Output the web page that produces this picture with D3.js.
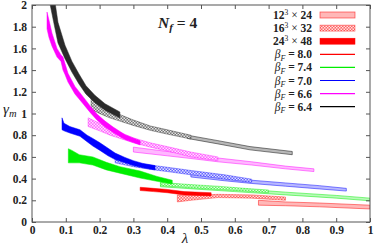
<!DOCTYPE html>
<html>
<head>
<meta charset="utf-8">
<script src="https://cdn.jsdelivr.net/npm/d3@7"></script>
<style>
	body { margin: 0; background: #fff; }
	svg { display: block; font-family: "Liberation Serif", "DejaVu Serif", serif; }
	.axis line { stroke: #555; }
	.axis .domain { display: none; }
	.legend text { font-size: 11.5px; font-weight: bold; fill: #222; }
</style>
</head>
<body>
<div id="chart"></div>
<script>
// axis ticks
var xTicks = [0, 0.1, 0.2, 0.3, 0.4, 0.5, 0.6, 0.7, 0.8, 0.9, 1];
var xLabels = ['0', '0.1', '0.2', '0.3', '0.4', '0.5', '0.6', '0.7', '0.8', '0.9', '1'];
var yTicks = [0, 0.2, 0.4, 0.6, 0.8, 1, 1.2, 1.4, 1.6, 1.8, 2];
var yLabels = ['0', '0.2', '0.4', '0.6', '0.8', '1', '1.2', '1.4', '1.6', '1.8', '2'];

// legend entries
var volumeLabels = [['12', '24'], ['16', '32'], ['24', '48']];
var betaValues = ['8.0', '7.4', '7.0', '6.6', '6.4'];
var betaColors = ['#ff0000', '#00ee00', '#0000ff', '#ff00ff', '#000000'];

// bands: [lambda, gamma low, gamma high]
var b80_L12 = [[0.67, 0.155, 0.2], [0.75, 0.15, 0.185], [0.85, 0.14, 0.175], [1.0, 0.12, 0.155]];
var b80_L16 = [[0.43, 0.185, 0.25], [0.47, 0.2, 0.245], [0.55, 0.225, 0.255], [0.65, 0.22, 0.25], [0.75, 0.2, 0.23]];
var b80_L24 = [[0.32, 0.29, 0.32], [0.36, 0.28, 0.31], [0.4, 0.27, 0.3], [0.45, 0.25, 0.28], [0.53, 0.24, 0.27]];

var b74_L12 = [[0.38, 0.325, 0.36], [0.5, 0.3, 0.33], [0.6, 0.28, 0.31], [0.75, 0.25, 0.275], [0.9, 0.22, 0.245], [1.0, 0.195, 0.22]];
var b74_L16 = [[0.38, 0.335, 0.365], [0.47, 0.315, 0.345], [0.55, 0.3, 0.33], [0.63, 0.285, 0.31], [0.7, 0.27, 0.295]];
var b74_L24 = [[0.1075, 0.545, 0.675], [0.118, 0.545, 0.66], [0.14, 0.545, 0.62], [0.18, 0.525, 0.6], [0.22, 0.48, 0.55], [0.26, 0.45, 0.51], [0.32, 0.405, 0.47], [0.37, 0.375, 0.42], [0.415, 0.35, 0.385]];

var b70_L12 = [[0.47, 0.415, 0.45], [0.57, 0.38, 0.415], [0.65, 0.355, 0.385], [0.75, 0.33, 0.36], [0.85, 0.305, 0.335], [0.93, 0.285, 0.31]];
var b70_L16 = [[0.246, 0.545, 0.59], [0.3, 0.51, 0.55], [0.35, 0.485, 0.525], [0.4, 0.465, 0.505], [0.47, 0.435, 0.475], [0.57, 0.395, 0.435], [0.65, 0.365, 0.395]];
var b70_L24 = [[0.0888, 0.85, 0.96], [0.0947, 0.84, 0.91], [0.112, 0.82, 0.88], [0.142, 0.79, 0.85], [0.163, 0.74, 0.8], [0.18, 0.7, 0.77], [0.201, 0.66, 0.73], [0.225, 0.61, 0.68], [0.246, 0.575, 0.635], [0.275, 0.545, 0.595], [0.3, 0.52, 0.565], [0.328, 0.5, 0.54], [0.364, 0.48, 0.52]];

var b66_L12 = [[0.3, 0.645, 0.69], [0.4, 0.61, 0.65], [0.47, 0.585, 0.625], [0.55, 0.555, 0.59], [0.65, 0.525, 0.555], [0.75, 0.49, 0.515], [0.834, 0.465, 0.49]];
var b66_L16 = [[0.166, 0.88, 0.96], [0.2, 0.84, 0.91], [0.231, 0.8, 0.865], [0.3, 0.73, 0.775], [0.35, 0.69, 0.73], [0.4, 0.655, 0.695], [0.47, 0.6, 0.645], [0.55, 0.565, 0.6]];
var b66_L24 = [[0.0444, 1.78, 1.935], [0.0503, 1.7, 1.86], [0.0592, 1.62, 1.74], [0.074, 1.52, 1.6], [0.0858, 1.48, 1.54], [0.0917, 1.4, 1.52], [0.0976, 1.36, 1.46], [0.1065, 1.29, 1.37], [0.127, 1.18, 1.25], [0.151, 1.09, 1.155], [0.172, 1.01, 1.07], [0.192, 0.94, 0.995], [0.216, 0.875, 0.93], [0.24, 0.825, 0.875], [0.275, 0.76, 0.805], [0.32, 0.71, 0.75]];

var b64_L12 = [[0.46, 0.77, 0.8], [0.55, 0.72, 0.75], [0.645, 0.665, 0.695], [0.77, 0.62, 0.65]];
var b64_L16 = [[0.175, 1.04, 1.15], [0.2, 1.0, 1.1], [0.23, 0.96, 1.03], [0.26, 0.93, 0.99], [0.3, 0.89, 0.94], [0.35, 0.845, 0.885], [0.4, 0.81, 0.85], [0.47, 0.765, 0.8]];
var b64_L24 = [[0.052, 2.03, 2.3], [0.0636, 1.85, 2.12], [0.0769, 1.65, 1.84], [0.0976, 1.505, 1.63], [0.1183, 1.38, 1.48], [0.139, 1.272, 1.364], [0.1598, 1.178, 1.256], [0.186, 1.1, 1.168], [0.216, 1.03, 1.09], [0.26, 0.958, 1.014]];

var bands = [
	{ beta: 0, vol: 12, data: b80_L12 }, { beta: 1, vol: 12, data: b74_L12 }, { beta: 2, vol: 12, data: b70_L12 },
	{ beta: 3, vol: 12, data: b66_L12 }, { beta: 4, vol: 12, data: b64_L12 },
	{ beta: 0, vol: 16, data: b80_L16 }, { beta: 1, vol: 16, data: b74_L16 }, { beta: 2, vol: 16, data: b70_L16 },
	{ beta: 3, vol: 16, data: b66_L16 }, { beta: 4, vol: 16, data: b64_L16 },
	{ beta: 0, vol: 24, data: b80_L24 }, { beta: 1, vol: 24, data: b74_L24 }, { beta: 2, vol: 24, data: b70_L24 },
	{ beta: 3, vol: 24, data: b66_L24 }, { beta: 4, vol: 24, data: b64_L24 }
];

initChart();

function initChart() {
	var width = 374;
	var height = 246;
	var margin = { top: 5, right: 4, bottom: 24, left: 32 };
	var innerW = width - margin.left - margin.right;
	var innerH = height - margin.top - margin.bottom;

	var svg = d3.select('#chart')
		.append('svg')
		.attr('width', width)
		.attr('height', height);

	var defs = svg.append('defs');

	defs.append('clipPath')
		.attr('id', 'plot-clip')
		.append('rect')
		.attr('width', innerW)
		.attr('height', innerH);

	// checker patterns for the 16^3 x 32 bands
	betaColors.forEach(function(c, i) {
		var p = defs.append('pattern')
			.attr('id', 'chk-' + i)
			.attr('width', 3)
			.attr('height', 3)
			.attr('patternUnits', 'userSpaceOnUse');
		p.append('rect').attr('width', 3).attr('height', 3).attr('fill', '#fff');
		p.append('rect').attr('width', 3).attr('height', 3).attr('fill', i === 4 ? '#555' : c).attr('fill-opacity', i === 4 ? 0.8 : 0.6);
		p.append('rect').attr('width', 1.5).attr('height', 1.5).attr('fill', '#fff').attr('fill-opacity', 0.8);
		p.append('rect').attr('x', 1.5).attr('y', 1.5).attr('width', 1.5).attr('height', 1.5).attr('fill', '#fff').attr('fill-opacity', 0.8);
	});

	var xScale = d3.scaleLinear().domain([0, 1]).range([0, innerW]);
	var yScale = d3.scaleLinear().domain([0, 2]).range([innerH, 0]);

	var wrapper = svg.append('g')
		.attr('transform', 'translate(' + margin.left + ',' + margin.top + ')');

	var area = d3.area()
		.x(function(d) { return xScale(d[0]); })
		.y0(function(d) { return yScale(d[1]); })
		.y1(function(d) { return yScale(d[2]); });

	var bandLayer = wrapper.append('g').attr('clip-path', 'url(#plot-clip)');

	bandLayer.selectAll('.band')
		.data(bands)
		.enter()
		.append('path')
		.attr('class', 'band')
		.attr('d', function(d) { return area(d.data); })
		.each(function(d) { styleBand(d3.select(this), d.vol, d.beta); });

	function styleBand(sel, vol, i) {
		var c = betaColors[i];
		if (vol === 12) {
			sel.attr('fill', c).attr('fill-opacity', 0.28)
				.attr('stroke', c).attr('stroke-opacity', 0.6).attr('stroke-width', 0.8);
		} else if (vol === 16) {
			sel.attr('fill', 'url(#chk-' + i + ')')
				.attr('stroke', c).attr('stroke-opacity', 0.6).attr('stroke-width', 0.6);
		} else {
			sel.attr('fill', i === 4 ? '#2a2a2a' : c)
				.attr('stroke', i === 4 ? '#2a2a2a' : c).attr('stroke-width', 0.5);
		}
	}

	// axes with inward ticks
	var xAxis = wrapper.append('g')
		.attr('class', 'axis x-axis')
		.attr('transform', 'translate(0,' + innerH + ')')
		.call(d3.axisBottom(xScale).tickValues(xTicks).tickSizeInner(-4).tickSizeOuter(0).tickPadding(4)
			.tickFormat(function(d, i) { return xLabels[i]; }));

	wrapper.append('g')
		.attr('class', 'axis')
		.call(d3.axisTop(xScale).tickValues(xTicks).tickSizeInner(-4).tickSizeOuter(0).tickFormat(''));

	var yAxis = wrapper.append('g')
		.attr('class', 'axis y-axis')
		.call(d3.axisLeft(yScale).tickValues(yTicks).tickSizeInner(-4).tickSizeOuter(0).tickPadding(5)
			.tickFormat(function(d, i) { return yLabels[i]; }));

	wrapper.append('g')
		.attr('class', 'axis')
		.attr('transform', 'translate(' + innerW + ',0)')
		.call(d3.axisRight(yScale).tickValues(yTicks).tickSizeInner(-4).tickSizeOuter(0).tickFormat(''));

	[xAxis, yAxis].forEach(function(ax) {
		ax.selectAll('text')
			.style('font-family', '"Liberation Serif", "DejaVu Serif", serif')
			.style('font-size', '11.5px')
			.style('font-weight', 'bold')
			.attr('fill', '#222');
	});

	wrapper.append('rect')
		.attr('width', innerW)
		.attr('height', innerH)
		.attr('fill', 'none')
		.attr('stroke', '#555')
		.attr('stroke-width', 1);

	// axis titles
	var yTitle = svg.append('text')
		.attr('x', 3)
		.attr('y', 114)
		.style('font-size', '15px')
		.style('font-style', 'italic')
		.attr('fill', '#222');
	yTitle.append('tspan').text('γ');
	yTitle.append('tspan').attr('dy', 3).style('font-size', '10.5px').text('m');

	svg.append('text')
		.attr('x', 185)
		.attr('y', 243)
		.attr('text-anchor', 'middle')
		.style('font-size', '15px')
		.style('font-style', 'italic')
		.attr('fill', '#222')
		.text('λ');

	var title = svg.append('text')
		.attr('x', 158)
		.attr('y', 28)
		.style('font-size', '15.5px')
		.style('font-weight', 'bold')
		.attr('fill', '#222');
	title.append('tspan').style('font-style', 'italic').text('N');
	title.append('tspan').attr('dy', 3).style('font-style', 'italic').style('font-size', '11px').text('f');
	title.append('tspan').attr('dy', -3).text(' = 4');

	// legend
	var legendLine = 13.1;
	var legend = svg.append('g').attr('class', 'legend');
	var textX = 312;
	var swX = 320;
	var swW = 35;
	var rowY0 = 15;

	volumeLabels.forEach(function(v, i) {
		var cy = rowY0 + legendLine * i;
		var t = legend.append('text').attr('x', textX).attr('y', cy + 4).attr('text-anchor', 'end');
		t.append('tspan').text(v[0]);
		t.append('tspan').attr('dy', -4.5).style('font-size', '7.5px').style('font-weight', 'normal').text('3');
		t.append('tspan').attr('dy', 4.5).style('font-weight', 'normal').text(' × ');
		t.append('tspan').text(v[1]);

		var r = legend.append('rect')
			.attr('x', swX)
			.attr('y', cy - 3)
			.attr('width', swW)
			.attr('height', 6);
		styleBand(r, [12, 16, 24][i], 0);
	});

	betaValues.forEach(function(b, j) {
		var cy = rowY0 + legendLine * (j + 3);
		var t = legend.append('text').attr('x', textX).attr('y', cy + 4).attr('text-anchor', 'end');
		t.append('tspan').style('font-style', 'italic').style('font-weight', 'normal').text('β');
		t.append('tspan').attr('dy', 2.5).style('font-style', 'italic').style('font-weight', 'normal').style('font-size', '8px').text('F');
		t.append('tspan').attr('dy', -2.5).text(' = ' + b);

		legend.append('line')
			.attr('x1', swX)
			.attr('x2', swX + swW)
			.attr('y1', cy)
			.attr('y2', cy)
			.attr('stroke', betaColors[j])
			.attr('stroke-width', 1.2);
	});
}
</script>
</body>
</html>
